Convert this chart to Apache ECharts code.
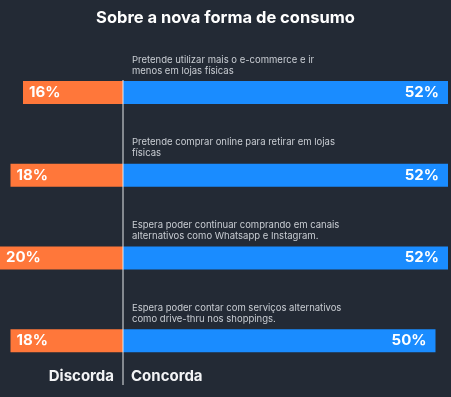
<!DOCTYPE html>
<html><head><meta charset="utf-8">
<script src="https://cdn.jsdelivr.net/npm/echarts@6/dist/echarts.min.js"></script>
<style>html,body{margin:0;padding:0;background:#232a35;}#c{width:451px;height:397px;}</style>
</head><body><div id="c"></div>
<script>
const title = 'Sobre a nova forma de consumo';
const categories = [
  'Pretende utilizar mais o e-commerce e ir\nmenos em lojas físicas',
  'Pretende comprar online para retirar em lojas\nfísicas',
  'Espera poder continuar comprando em canais\nalternativos como Whatsapp e Instagram.',
  'Espera poder contar com serviços alternativos\ncomo drive-thru nos shoppings.'
];
const discorda = [16, 18, 20, 18];
const concorda = [52, 52, 52, 50];
const leftLabel = 'Discorda';
const rightLabel = 'Concorda';

const chart = echarts.init(document.getElementById('c'), null, {renderer: 'canvas'});
const font = 'Inter, Roboto, "Noto Sans", sans-serif';
chart.setOption({
  backgroundColor: '#232a35',
  animation: false,
  textStyle: {fontFamily: font},
  title: {
    text: title, left: 'center', top: 5,
    textStyle: {color: '#ffffff', fontSize: 16.5, fontWeight: 'bold', fontFamily: font}
  },
  grid: {left: 0, right: 0, top: 51, height: 331, containLabel: false},
  xAxis: {
    type: 'value', min: -19.68, max: 52.48,
    show: false
  },
  yAxis: {
    type: 'category', data: categories, inverse: true,
    offset: -132,
    axisLine: {show: false}, axisTick: {show: false},
    axisLabel: {
      inside: true, margin: 0, align: 'left', verticalAlign: 'bottom',
      color: '#c9cdd3', fontSize: 9.5, lineHeight: 11, fontFamily: font,
      padding: [0, 0, 16, 0]
    }
  },
  series: [
    {
      type: 'bar', stack: 'a', barWidth: 23,
      data: discorda.map(v => -v),
      itemStyle: {color: '#ff773a'},
      label: {
        show: true, position: 'insideLeft', distance: 6,
        color: '#ffffff', fontSize: 15, fontWeight: 'bold', fontFamily: font,
        formatter: p => Math.abs(p.value) + '%'
      }
    },
    {
      type: 'bar', stack: 'a', barWidth: 23,
      data: concorda,
      itemStyle: {color: '#1a8cff'},
      label: {
        show: true, position: 'insideRight', distance: 9,
        color: '#ffffff', fontSize: 15, fontWeight: 'bold', fontFamily: font,
        formatter: p => p.value + '%'
      }
    }
  ]
});

const zeroX = chart.convertToPixel({gridIndex: 0}, [0, 0])[0];
chart.setOption({
  graphic: [
    {type: 'line', shape: {x1: zeroX, y1: 80, x2: zeroX, y2: 385}, style: {stroke: '#e6e8eb', lineWidth: 1}, z: 10},
    {type: 'text', x: zeroX - 9, y: 376, style: {text: leftLabel, fill: '#f2f3f5', font: 'bold 15px ' + font, textAlign: 'right', textVerticalAlign: 'middle'}},
    {type: 'text', x: zeroX + 8, y: 376, style: {text: rightLabel, fill: '#f2f3f5', font: 'bold 15px ' + font, textAlign: 'left', textVerticalAlign: 'middle'}}
  ]
});
</script>
</body></html>
